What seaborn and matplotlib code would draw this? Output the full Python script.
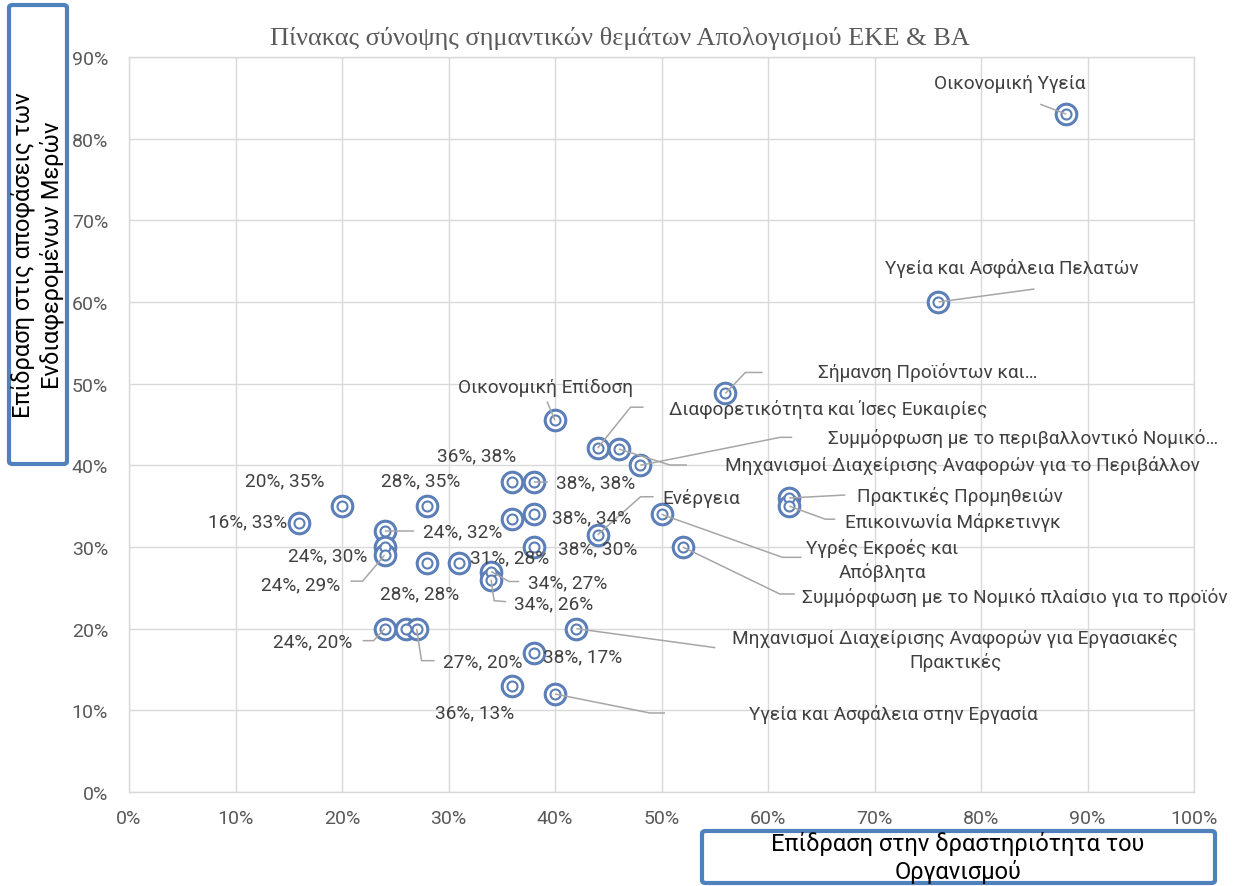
import numpy as np
import pandas as pd
import matplotlib
matplotlib.use("Agg")
import matplotlib.pyplot as plt
from matplotlib.patches import FancyBboxPatch
from matplotlib.ticker import PercentFormatter
import seaborn as sns

# -------------------------
# data: x = impact on the organisation, y = impact on stakeholders
# -------------------------
x_vals = [0.88, 0.76, 0.56, 0.40, 0.44, 0.46, 0.48, 0.44, 0.50, 0.52, 0.62, 0.62, 0.42, 0.40,
          0.16, 0.20, 0.24, 0.24, 0.24, 0.28, 0.28, 0.31, 0.34, 0.34, 0.36, 0.38, 0.36, 0.38,
          0.38, 0.24, 0.26, 0.27, 0.38, 0.36]
y_vals = [0.83, 0.60, 0.488, 0.455, 0.421, 0.42, 0.40, 0.315, 0.34, 0.30, 0.36, 0.35, 0.20, 0.12,
          0.33, 0.35, 0.32, 0.30, 0.29, 0.35, 0.28, 0.28, 0.27, 0.26, 0.38, 0.38, 0.334, 0.34,
          0.30, 0.20, 0.20, 0.20, 0.17, 0.13]
labels = ["Οικονομική Υγεία",
          "Υγεία και Ασφάλεια Πελατών",
          "Σήμανση Προϊόντων και…",
          "Οικονομική Επίδοση",
          "Διαφορετικότητα και Ίσες Ευκαιρίες",
          "Μηχανισμοί Διαχείρισης Αναφορών για το Περιβάλλον",
          "Συμμόρφωση με το περιβαλλοντικό Νομικό…",
          "Ενέργεια",
          "Υγρές Εκροές και\nΑπόβλητα",
          "Συμμόρφωση με το Νομικό πλαίσιο για το προϊόν",
          "Πρακτικές Προμηθειών",
          "Επικοινωνία Μάρκετινγκ",
          "Μηχανισμοί Διαχείρισης Αναφορών για Εργασιακές\nΠρακτικές",
          "Υγεία και Ασφάλεια στην Εργασία",
          "16%, 33%", "20%, 35%", "24%, 32%", "24%, 30%", "24%, 29%", "28%, 35%",
          "28%, 28%", "31%, 28%", "34%, 27%", "34%, 26%", "36%, 38%", "38%, 38%",
          "", "38%, 34%", "38%, 30%", "24%, 20%", "", "27%, 20%", "38%, 17%", "36%, 13%"]

title = "Πίνακας σύνοψης σημαντικών θεμάτων Απολογισμού ΕΚΕ & ΒΑ"
x_title = "Επίδραση στην δραστηριότητα του\nΟργανισμού"
y_title = "Επίδραση στις αποφάσεις των\nΕνδιαφερομένων Μερών"

# label placement (pixel offsets from the marker, y up) + leader line vertices
layout = [
    (-56, 31, "center", [(0, 0), (-26, 10)]),
    (73, 34, "center", [(0, 0), (96, 13)]),
    (93, 22, "left", [(0, 0), (20, 21), (37, 21)]),
    (-10, 33, "center", [(0, 0), (-8, 19)]),
    (71, 40, "left", [(0, 0), (33, 41), (46, 41)]),
    (106, -16, "left", [(0, 0), (51, -16), (68, -16)]),
    (188, 28, "left", [(0, 0), (140, 28), (152, 28)]),
    (65, 37, "left", [(0, 0), (43, 38), (56, 38)]),
    (221, -45, "center", [(0, 0), (121, -43), (140, -43)]),
    (119, -50, "left", [(0, 0), (97, -47), (112, -47)]),
    (68, 2, "left", [(0, 0), (56, 3)]),
    (56, -15, "left", [(0, 0), (36, -13), (46, -13)]),
    (379, -21, "center", [(0, 0), (139, -19)]),
    (194, -20, "left", [(0, 0), (95, -19), (110, -19)]),
    (-12, 1, "right", None),
    (-57, 26, "center", None),
    (38, -1, "left", [(0, 0), (29, 0)]),
    (-17, -8, "right", None),
    (-44, -29, "right", [(0, 0), (-22, -26), (-34, -26)]),
    (-7, 26, "center", None),
    (-8, -30, "center", None),
    (50, 6, "center", None),
    (37, -11, "left", [(0, 0), (18, -10), (28, -10)]),
    (23, -24, "left", [(0, 0), (3, -21), (15, -22)]),
    (-36, 26, "center", None),
    (22, -1, "left", [(0, 0), (14, 0)]),
    (0, 0, "center", None),
    (18, -3, "left", None),
    (24, -1, "left", None),
    (-32, -13, "right", [(0, 0), (-11, -12), (-22, -12)]),
    (0, 0, "center", None),
    (26, -33, "left", [(0, 0), (5, -32), (18, -32)]),
    (9, -3, "left", None),
    (-38, -27, "center", None),
]

df = pd.DataFrame({"x": x_vals, "y": y_vals, "label": labels})

sns.set_theme(style="white")
plt.rcParams["font.family"] = ["Roboto", "DejaVu Sans"]

blue = "#5B7FB6"
grey_txt = "#404040"
grid_c = "#D9D9D9"

fig = plt.figure(figsize=(12.39, 8.87), dpi=100)
ax = fig.add_axes([129 / 1239, 1 - 793 / 887, 1065 / 1239, 735 / 887])

ax.set_xlim(0, 1)
ax.set_ylim(0, 0.9)
ax.set_xticks(np.arange(0, 1.01, 0.1))
ax.set_yticks(np.arange(0, 0.91, 0.1))
ax.xaxis.set_major_formatter(PercentFormatter(1, decimals=0))
ax.yaxis.set_major_formatter(PercentFormatter(1, decimals=0))
ax.grid(True, color=grid_c, linewidth=1.0)
ax.set_axisbelow(True)
for s in ax.spines.values():
    s.set_color(grid_c)
    s.set_linewidth(1.0)
ax.tick_params(axis="both", length=0, labelsize=14, labelcolor="#595959")
ax.tick_params(axis="x", pad=12)
ax.tick_params(axis="y", pad=15)

# markers: outer ring + inner ring
sns.scatterplot(data=df, x="x", y="y", ax=ax, s=220, color="white",
                edgecolor=blue, linewidth=2.2, zorder=3, legend=False)
sns.scatterplot(data=df, x="x", y="y", ax=ax, s=52, color="white",
                edgecolor=blue, linewidth=1.5, zorder=4, legend=False)
ax.set_xlabel("")
ax.set_ylabel("")

# labels and leader lines
for (xv, yv, lab), (dx, dy, ha, leader) in zip(zip(x_vals, y_vals, labels), layout):
    if lab:
        ax.annotate(lab, xy=(xv, yv), xytext=(dx, dy), textcoords="offset pixels",
                    ha=ha, va="center", multialignment="center", fontsize=13.7,
                    color=grey_txt, zorder=6, linespacing=1.35)
    if leader:
        base = ax.transData.transform((xv, yv))
        pts = ax.transData.inverted().transform(base + np.array(leader, dtype=float))
        ax.plot(pts[:, 0], pts[:, 1], color="#A6A6A6", linewidth=1.1, zorder=5,
                solid_capstyle="butt")

# title
fig.text(620 / 1239, 1 - 38 / 887, title, ha="center", va="center",
         fontsize=19, color="#595959", family=["Liberation Serif", "DejaVu Serif"])

# axis title boxes
box_y = FancyBboxPatch((9 / 1239, 1 - 465 / 887), 58 / 1239, 459 / 887,
                       boxstyle="round,pad=0,rounding_size=0.003",
                       transform=fig.transFigure, facecolor="white",
                       edgecolor="#4F81BD", linewidth=3, zorder=1)
fig.patches.append(box_y)
fig.text(37 / 1239, 1 - 255 / 887, y_title, rotation=90, ha="center", va="center",
         fontsize=17, color="black", multialignment="center", linespacing=1.25)

box_x = FancyBboxPatch((702 / 1239, 1 - 884 / 887), 513 / 1239, 52 / 887,
                       boxstyle="round,pad=0,rounding_size=0.003",
                       transform=fig.transFigure, facecolor="white",
                       edgecolor="#4F81BD", linewidth=3, zorder=1)
fig.patches.append(box_x)
fig.text(958 / 1239, 1 - 858 / 887, x_title, ha="center", va="center",
         fontsize=17, color="black", multialignment="center", linespacing=1.25)

fig.savefig("out.png", dpi=100)
